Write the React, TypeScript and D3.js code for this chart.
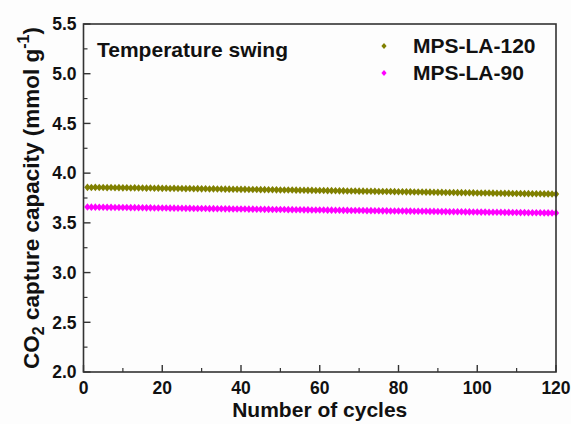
import React from "react";
import * as d3 from "d3";

const cycles: number[] = d3.range(1, 121);

const mps120: number[] = [
  3.857, 3.856, 3.857, 3.855, 3.856, 3.854, 3.855, 3.853, 3.854, 3.852,
  3.853, 3.851, 3.852, 3.850, 3.851, 3.849, 3.850, 3.848, 3.849, 3.847,
  3.848, 3.846, 3.847, 3.845, 3.846, 3.844, 3.845, 3.843, 3.844, 3.842,
  3.843, 3.841, 3.842, 3.840, 3.840, 3.839, 3.839, 3.838, 3.838, 3.837,
  3.837, 3.836, 3.836, 3.835, 3.834, 3.834, 3.833, 3.833, 3.832, 3.831,
  3.831, 3.830, 3.830, 3.829, 3.828, 3.828, 3.827, 3.827, 3.826, 3.825,
  3.825, 3.824, 3.824, 3.823, 3.822, 3.822, 3.821, 3.821, 3.820, 3.819,
  3.819, 3.818, 3.818, 3.817, 3.816, 3.816, 3.815, 3.815, 3.814, 3.813,
  3.813, 3.812, 3.812, 3.811, 3.810, 3.810, 3.809, 3.809, 3.808, 3.807,
  3.807, 3.806, 3.806, 3.805, 3.804, 3.804, 3.803, 3.803, 3.802, 3.801,
  3.801, 3.800, 3.800, 3.799, 3.798, 3.798, 3.797, 3.797, 3.796, 3.795,
  3.795, 3.794, 3.794, 3.793, 3.792, 3.792, 3.791, 3.791, 3.790, 3.789,
];

const mps90: number[] = [
  3.659, 3.658, 3.658, 3.657, 3.657, 3.656, 3.656, 3.655, 3.655, 3.654,
  3.654, 3.653, 3.653, 3.652, 3.652, 3.651, 3.651, 3.650, 3.650, 3.649,
  3.649, 3.648, 3.648, 3.647, 3.647, 3.646, 3.646, 3.645, 3.645, 3.644,
  3.644, 3.643, 3.643, 3.642, 3.642, 3.641, 3.641, 3.640, 3.640, 3.639,
  3.639, 3.638, 3.638, 3.637, 3.637, 3.636, 3.636, 3.635, 3.635, 3.634,
  3.634, 3.633, 3.633, 3.632, 3.632, 3.631, 3.631, 3.630, 3.630, 3.629,
  3.629, 3.628, 3.628, 3.627, 3.627, 3.626, 3.626, 3.625, 3.625, 3.624,
  3.624, 3.623, 3.623, 3.622, 3.622, 3.621, 3.621, 3.620, 3.620, 3.619,
  3.619, 3.618, 3.618, 3.617, 3.617, 3.616, 3.616, 3.615, 3.615, 3.614,
  3.613, 3.613, 3.612, 3.612, 3.611, 3.611, 3.610, 3.610, 3.609, 3.609,
  3.608, 3.608, 3.607, 3.607, 3.606, 3.606, 3.605, 3.605, 3.604, 3.604,
  3.603, 3.603, 3.602, 3.602, 3.601, 3.601, 3.600, 3.600, 3.599, 3.599,
];

const seriesNames: string[] = ["MPS-LA-120", "MPS-LA-90"];
const seriesColors: string[] = ["#808000", "#ff00ff"];
const xTicks: number[] = [0, 20, 40, 60, 80, 100, 120];
const xMinorTicks: number[] = [10, 30, 50, 70, 90, 110];
const yTicks: number[] = [2.0, 2.5, 3.0, 3.5, 4.0, 4.5, 5.0, 5.5];
const yMinorTicks: number[] = [2.25, 2.75, 3.25, 3.75, 4.25, 4.75, 5.25];

const W = 571;
const H = 424;
const L = 83.5;
const R = 556;
const T = 24;
const B = 372;

const FONT = "Arial, 'Liberation Sans', Helvetica, sans-serif";
const AXC = "#333";

export default function App() {
  const x = d3.scaleLinear().domain([0, 120]).range([L, R]);
  const y = d3.scaleLinear().domain([2.0, 5.5]).range([B, T]);
  const diamond = "M0,-3.8L3.2,0L0,3.8L-3.2,0Z";
  const smallDiamond = "M0,-3L2.6,0L0,3L-2.6,0Z";
  const allSeries = [mps120, mps90];

  return (
    <svg
      width={W}
      height={H}
      style={{ position: "absolute", left: 0, top: 0, background: "#fdfdfd" }}
      fontFamily={FONT}
    >
      <rect x={0} y={0} width={W} height={H} fill="#fdfdfd" />
      {allSeries.map((vals, si) => (
        <g key={si} fill={seriesColors[si]}>
          {vals.map((v, i) => (
            <path key={i} d={diamond} transform={`translate(${x(cycles[i])},${y(v)})`} />
          ))}
        </g>
      ))}
      <rect x={L} y={T} width={R - L} height={B - T} fill="none" stroke={AXC} strokeWidth={1.6} />
      {yTicks.map((t) => (
        <g key={"y" + t}>
          <line x1={L} x2={L + 7} y1={y(t)} y2={y(t)} stroke={AXC} strokeWidth={1.4} />
          <text
            x={L - 7}
            y={y(t)}
            dy="0.36em"
            textAnchor="end"
            fontSize={17.5}
            fontWeight="bold"
            fill="#111"
          >
            {t.toFixed(1)}
          </text>
        </g>
      ))}
      {yMinorTicks.map((t) => (
        <line key={"ym" + t} x1={L} x2={L + 4} y1={y(t)} y2={y(t)} stroke={AXC} strokeWidth={1.2} />
      ))}
      {xTicks.map((t) => (
        <g key={"x" + t}>
          <line x1={x(t)} x2={x(t)} y1={B} y2={B - 7} stroke={AXC} strokeWidth={1.4} />
          <text x={x(t)} y={394} textAnchor="middle" fontSize={17.5} fontWeight="bold" fill="#111">
            {t}
          </text>
        </g>
      ))}
      {xMinorTicks.map((t) => (
        <line key={"xm" + t} x1={x(t)} x2={x(t)} y1={B} y2={B - 4} stroke={AXC} strokeWidth={1.2} />
      ))}
      <text x={(L + R) / 2} y={417} textAnchor="middle" fontSize={21} fontWeight="bold" fill="#111">
        Number of cycles
      </text>
      <text
        transform={`translate(39,${(T + B) / 2}) rotate(-90)`}
        textAnchor="middle"
        fontSize={22.5}
        fontWeight="bold"
        fill="#111"
      >
        CO
        <tspan fontSize={16} dy={5}>2</tspan>
        <tspan dy={-5}> capture capacity (mmol g</tspan>
        <tspan fontSize={16} dy={-10}>-1</tspan>
        <tspan dy={10}>)</tspan>
      </text>
      <text x={97} y={56.5} fontSize={21} fontWeight="bold" fill="#111">
        Temperature swing
      </text>
      {seriesNames.map((name, i) => (
        <g key={name}>
          <path d={smallDiamond} fill={seriesColors[i]} transform={`translate(384,${46 + i * 27})`} />
          <text x={413} y={53 + i * 27} fontSize={21} fontWeight="bold" fill="#111">
            {name}
          </text>
        </g>
      ))}
    </svg>
  );
}
